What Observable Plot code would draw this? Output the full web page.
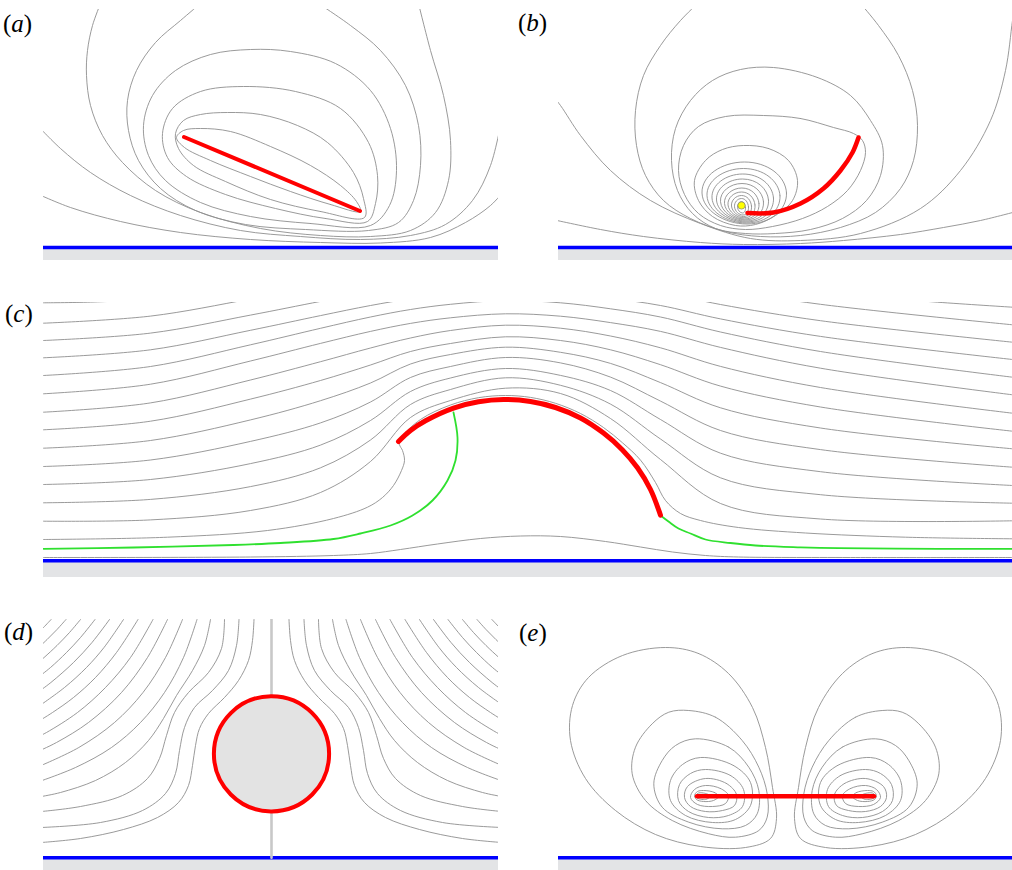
<!DOCTYPE html>
<html>
<head>
<meta charset="utf-8">
<script src="https://cdn.jsdelivr.net/npm/d3@7"></script>
<script src="https://cdn.jsdelivr.net/npm/@observablehq/plot@0.6"></script>
<style>
html,body{margin:0;padding:0;background:#fff;}
#fig{position:relative;width:1012px;height:870px;overflow:hidden;background:#fff;}
#fig svg{position:absolute;overflow:hidden;max-width:none;}
.lab{position:absolute;font-family:"Liberation Serif","Times New Roman","DejaVu Serif",serif;font-size:25px;line-height:25px;color:#000;white-space:nowrap;}
</style>
</head>
<body>
<div id="fig"></div>
<script>
// ---------------- data (figure units: pixels of the original figure) ----------------
const panelLabels = ["a", "b", "c", "d", "e"];
const wallLevels = [247, 247, 560.3, 857.3, 857.3];
const groundTops = [249, 249, 562, 859, 859];
const groundBottoms = [260, 260, 577, 870, 870];

// (a) inclined plate
const aPlate = [[183.5, 136.5], [359.5, 210.5]];
const aClosedLoops = [
  [[360,211],[330,204],[290,191],[250,176],[210,160],[184,147],[176,137],[183,130],[200,128],[230,131],[270,146],[310,165],[340,185],[356,201]],
  [[364,217],[320,211],[270,199],[225,181],[193,165],[178,148],[175,133],[183,120],[200,114],[227,112],[260,114],[297,125],[327,142],[353,172],[363,198]],
  [[367,221],[325,218],[275,208],[225,194],[186,176],[167,157],[162,133],[172,108],[200,91],[243,86],[295,91],[340,108],[368,142],[377,175],[375,203]],
  [[370,225],[310,223],[250,216],[200,202],[165,180],[148,155],[143,125],[152,95],[175,70],[210,54],[250,49],[290,51],[335,63],[370,90],[390,128],[396,170],[389,205]]
];
const aOpenLines = [
  [[200,3],[180,20],[155,42],[136,70],[127,100],[128,130],[138,160],[160,188],[195,210],[245,224],[305,229],[368,230],[398,222],[413,200],[420,165],[418,125],[405,85],[380,50],[350,25],[318,3]],
  [[100,3],[92,25],[87,50],[86,75],[90,105],[102,135],[122,162],[155,190],[200,212],[260,228],[320,235],[370,236],[410,230],[435,212],[448,180],[450,140],[443,95],[430,50],[418,3]],
  [[36,124],[60,148],[90,172],[130,195],[180,215],[240,230],[300,236],[360,239],[410,235],[445,224],[472,200],[490,165],[502,115]],
  [[36,193],[70,207],[120,221],[180,232],[250,239],[320,242],[380,242.5],[430,237],[465,222],[490,205],[504,190]]
];

// (b) curved filament with a point source
const bSource = [[741, 205]];
const bFilament = [[747,212.5],[773,212],[800,203],[823,188],[840,170],[852,152],[858,137]];
const bRings = [
  [[741,201],[745,206.8],[742,212.5],[737,206.8]],
  [[741,198],[748,206.3],[742.5,214.5],[734,206.3]],
  [[741,195],[751,205.5],[743,216],[731,205.5]],
  [[741,191.5],[754.5,204.4],[743.5,217.3],[727.5,204.4]],
  [[741.3,187.5],[758.5,203],[744,218.5],[724,203]],
  [[741.5,183],[763,201.2],[744.5,219.5],[720,201.2]],
  [[742,178.5],[768,199.5],[745,220.5],[716,199.5]],
  [[742.3,173.5],[773,197.5],[745.5,221.5],[711.5,197.5]],
  [[743,168],[779.5,195.3],[746,222.5],[706.5,195.3]],
  [[744,161.5],[786,192.5],[746.5,223.5],[701.5,192.5]]
];
const bLoops = [
  [[743,145],[768,148],[788,160],[797,180],[792,200],[775,215],[755,224],[735,225],[712,216],[698,200],[694,180],[705,160],[722,149]],
  [[763,115],[800,118],[833,127],[853,133],[862,140],[865,152],[860,170],[847,190],[827,206],[802,218],[772,226],[745,229],[720,225],[698,213],[684,194],[678,170],[683,145],[698,126],[725,116]],
  [[773,67],[817,77],[850,95],[870,120],[882,145],[880,175],[866,200],[842,218],[810,229],[775,233],[745,233],[715,228],[692,213],[677,190],[671,160],[675,128],[690,100],[712,80],[740,69]]
];
const bOpenLines = [
  [[697,3],[680,20],[660,45],[643,75],[635,110],[636,145],[645,175],[663,200],[690,218],[725,231],[760,236],[800,235],[840,227],[875,212],[900,188],[913,160],[917,125],[912,90],[898,55],[878,25],[860,3]],
  [[552,95],[560,105],[580,135],[610,170],[650,200],[700,223],[750,238],[800,240],[860,233],[920,208],[960,170],[990,120],[1005,70],[1012,20],[1015,0]],
  [[552,219],[600,229],[643,236],[700,242],[743,244],[800,243],[843,240],[900,234],[943,227],[980,220],[1016,211]]
];

// (c) swimming sheet in shear flow
const cSheet = [[398,441],[410,430],[425,420.3],[453,407.6],[478,401.3],[503,399],[530,401],[555,407],[580,417.5],[603,432.6],[622,449.4],[637,467.3],[650,489],[660,514.7]];
const cStations = [43,150,250,320,370,410,450,505,560,610,660,720,820,1012];
const cLineLevels = [
  [520.7,519.4,510,492,461,417,400,387.7,393,418,459,503,518.5,520.3],
  [502.3,498.9,486.1,467.3,439.5,404,389,377.3,384.8,403.6,438.5,477.3,494.2,502.7],
  [484,479,463.1,444.6,420,391,377.5,368,374.9,390,419,452.7,471.2,485],
  [466,459.5,440.9,422.4,401.5,377,366,357,362.4,376.6,400.6,430,449.1,466.7],
  [447.7,440,419.4,400.2,382.5,363.5,354,346.7,351.8,362.9,382.1,407.3,427.5,448.3],
  [429.3,420.7,398.6,380,364.5,351,343,336.3,340,349.3,364.2,385.6,406.5,430.7],
  [411.7,402.4,379.5,361.2,347.5,337.5,330,324.7,327.7,335.5,347.3,365.9,387,412.7],
  [393.3,383.7,360.5,342.9,330.9,322.9,317.3,313.3,315.7,322.1,330.9,346.9,367.7,394.3],
  [375,366,344.3,327.8,316.5,309,303.8,300,302.3,308.3,316.5,331.5,351,376.7],
  [357.3,349.3,329.8,315.1,305,298.3,293.6,290.3,292.3,297.7,305,318.4,335.9,359],
  [340,332.6,314.6,300.9,291.6,285.4,281.1,278,279.9,284.8,291.6,304,320.2,341.7],
  [322.7,315.6,298.5,285.5,276.7,270.8,266.7,263.7,265.5,270.2,276.7,288.5,303.8,324.3]
];
const cTopLine = [[43,302.3],[90,301.6],[150,298.5],[250,288],[320,276],[505,252],[700,272],[800,288],[880,297],[937,301.7],[1012,306.7]];
const cSheetLine = [[43,539],[167,536.7],[267,530],[333,518],[367,506.7],[382,497],[393,485],[401,470],[404,460],[402,450],[399,444],[401,437],[420,419],[450,404.5],[478,397.2],[505,395],[530,396.9],[555,402.8],[580,413],[603,427],[622,442.3],[640,459.6],[655,482],[665,500],[680,513],[700,520],[738,527],[805,532.5],[905,536.7],[1012,538.3]];
const cWallLine = [[43,557],[250,556.5],[333,555],[370,553],[400,549],[437,543.5],[480,538],[520,535.5],[560,536],[605,541],[640,546.5],[672,551.5],[705,555],[738,556.5],[850,557],[1012,557]];
const cSeparatrixLeft = [[453,412],[457,437],[455,460],[447,480],[432,500],[412,515],[390,525],[360,533],[333,538.5],[280,542.5],[233,544.5],[133,547],[43,548.3]];
const cSeparatrixRight = [[660,515],[668,521],[678,528],[690,533],[705,539],[730,542.5],[755,545],[800,546.8],[838,547.7],[938,548.3],[1012,548.3]];

// (d) sphere approaching a wall: (distance from axis, height) — axisymmetric
const dSphere = [[0, 753.3]];
const dAxis = [[0, 619], [0, 857.3]];
const dStreamlines = [
  [[17.5,619],[19,640],[23,660],[33,680],[47,697],[63,713],[72,728],[76,745],[79,765],[83,785],[93,802],[114,817],[148,829],[191,838],[230,842]],
  [[32.5,619],[35,645],[43,670],[59,690],[77,707],[87,727],[92,750],[96,773],[106,793],[129,810],[171,822],[230,827]],
  [[47,619],[50,648],[63,672],[83,692],[97,712],[105,735],[112,758],[124,778],[149,795],[191,806],[230,811]],
  [[61,619],[67,645],[79,670],[95,695],[108,718],[123,740],[146,762],[176,780],[211,792],[230,796]],
  [[74.5,619],[88,657],[107,692],[131,722],[160,747],[196,767],[235,782]],
  [[89,619],[106,657],[128.5,692],[157,722],[192.7,747],[230.4,765]],
  [[104,619],[124,657],[150,692],[183,722],[215,742],[236,752]],
  [[118.5,619],[141,657],[166,687],[194,712],[225,732],[235,737]],
  [[133.5,619],[155,652],[176,677],[198,697],[219,712],[235,722]],
  [[148,619],[167.5,647],[185,667],[207,687],[234.5,707]],
  [[162,619],[179.5,642],[198,662],[220.6,682],[234,692]],
  [[176.5,619],[191,637],[205,652],[221,667],[233.6,677]],
  [[191,619],[202,632],[214.5,645],[227.4,657],[234.4,663]],
  [[205.5,619],[214.5,629],[224.4,639],[235,649]],
  [[220.4,619],[228,627],[236,635]]
];

// (e) rod parallel to the wall: (distance from midplane, height) — symmetric
const eRod = [[0, 795.7], [88.5, 795.7]];
const eLoops = [
  [[82,792.5],[75,795.5],[80,799],[89,797],[88,793]],
  [[82,790],[71,792],[67,796],[72,800],[82,801],[89,799],[91,795],[88,791]],
  [[80,785],[65,788],[57,795],[60,803],[73,806],[88,804],[95,797],[91,789]],
  [[80,778],[59,783],[49,794],[51,805],[63,810],[80,811],[95,806],[101,797],[98,786]],
  [[80,769],[55,775],[42,789],[43,806],[57,815],[77,817],[97,811],[107,800],[106,784],[95,773]],
  [[85,757],[52,765],[35,782],[35,805],[50,819],[73,822],[100,815],[115,800],[115,780],[103,764]],
  [[90,738.3],[56.7,746.7],[36.7,766.7],[26.7,790],[28.3,813.3],[40,825],[63.3,828.3],[96.7,821.7],[123.3,806.7],[131.7,783.3],[123.3,760],[110,745]],
  [[96.7,710],[70,716.7],[43.3,740],[26.7,766.7],[18.3,793.3],[18.3,816.7],[26.7,830],[50,836.7],[76.7,833.3],[113.3,820],[140,800],[153.3,773.3],[150,746.7],[133.3,723.3],[116.7,711.7]],
  [[120,647],[87,653],[57,673],[33,707],[20,747],[13,787],[9,818],[15,838],[40,847],[85,846],[130,834],[170,810],[200,778],[215,740],[213,705],[197,677],[163,655]]
];

// ---------------- drawing ----------------
const fig = document.getElementById("fig");
const GREY = "#8f8f8f";
const RED = "#ff0000";
const BLUE = "#0000ff";
const GROUND = "#e3e4e6";

function drawPanel({left, top, width, height, xDomain, yDomain, flipX = false, marks}) {
  const svg = Plot.plot({
    width, height, margin: 0,
    x: {domain: xDomain, range: flipX ? [width, 0] : [0, width], axis: null},
    y: {domain: yDomain, range: [0, height], axis: null},
    style: {background: "transparent"},
    marks
  });
  svg.style.left = left + "px";
  svg.style.top = top + "px";
  svg.style.width = width + "px";
  svg.style.height = height + "px";
  fig.appendChild(svg);
}

function wallMarks(i, xDomain) {
  const band = [{x1: xDomain[0], x2: xDomain[1], y1: groundTops[i], y2: groundBottoms[i]}];
  return [
    Plot.rect(band, {x1: "x1", x2: "x2", y1: "y1", y2: "y2", fill: GROUND}),
    Plot.ruleY([wallLevels[i]], {stroke: BLUE, strokeWidth: 3.5})
  ];
}
const stream = (curves, curve, extra = {}) =>
  curves.map(c => Plot.line(c, {curve, stroke: GREY, strokeWidth: 0.9, clip: true, ...extra}));

// (a)
drawPanel({
  left: 43, top: 9, width: 455, height: 251, xDomain: [43, 498], yDomain: [9, 260],
  marks: [
    ...wallMarks(0, [43, 498]),
    ...stream(aClosedLoops, "catmull-rom-closed"),
    ...stream(aOpenLines, "catmull-rom"),
    Plot.line(aPlate, {stroke: RED, strokeWidth: 4, strokeLinecap: "round"})
  ]
});

// (b)
drawPanel({
  left: 558, top: 9, width: 454, height: 251, xDomain: [558, 1012], yDomain: [9, 260],
  marks: [
    ...wallMarks(1, [558, 1012]),
    ...stream(bRings, "cardinal-closed", {tension: -0.65}),
    ...stream(bLoops, "catmull-rom-closed"),
    ...stream(bOpenLines, "catmull-rom"),
    Plot.line(bFilament, {curve: "catmull-rom", stroke: RED, strokeWidth: 4.5, strokeLinecap: "round"}),
    Plot.dot(bSource, {r: 3.6, fill: "#ffff00", stroke: "#8a8a60", strokeWidth: 0.7})
  ]
});

// (c)
const cLines = cLineLevels.map(levels => cStations.map((x, j) => [x, levels[j]]));
drawPanel({
  left: 43, top: 302, width: 969, height: 275, xDomain: [43, 1012], yDomain: [302, 577],
  marks: [
    ...wallMarks(2, [43, 1012]),
    ...stream([...cLines, cTopLine, cSheetLine, cWallLine], "catmull-rom"),
    Plot.line(cSeparatrixLeft, {curve: "catmull-rom", stroke: "#2fe02f", strokeWidth: 1.8, clip: true}),
    Plot.line(cSeparatrixRight, {curve: "catmull-rom", stroke: "#2fe02f", strokeWidth: 1.8, clip: true}),
    Plot.line(cSheet, {curve: "catmull-rom", stroke: RED, strokeWidth: 5, strokeLinecap: "round"})
  ]
});

// (d) two mirrored halves of an axisymmetric field
[[43, 228, true], [271, 227, false]].forEach(([left, width, flipX]) => {
  drawPanel({
    left, top: 619, width, height: 251, xDomain: [0, width], yDomain: [619, 870], flipX,
    marks: [
      ...wallMarks(3, [0, width]),
      ...stream(dStreamlines, "catmull-rom"),
      Plot.line(dAxis, {stroke: "#c8c8c8", strokeWidth: 2.6, clip: true}),
      Plot.dot(dSphere, {r: 57.6, fill: "#e3e3e3", stroke: RED, strokeWidth: 4, clip: true})
    ]
  });
});

// (e) two mirrored halves
[[558, 227, true], [785, 227, false]].forEach(([left, width, flipX]) => {
  drawPanel({
    left, top: 619, width, height: 251, xDomain: [0, width], yDomain: [619, 870], flipX,
    marks: [
      ...wallMarks(4, [0, width]),
      ...stream(eLoops, "catmull-rom-closed"),
      Plot.line(eRod, {stroke: RED, strokeWidth: 4.5, strokeLinecap: "round", clip: true})
    ]
  });
});

// panel letters
const labelSpots = [[3, 11], [518, 10], [5, 301], [4, 619], [519, 620]];
panelLabels.forEach((t, i) => {
  const s = document.createElement("div");
  s.className = "lab";
  s.style.left = labelSpots[i][0] + "px";
  s.style.top = labelSpots[i][1] + "px";
  s.innerHTML = "(<i>" + t + "</i>)";
  fig.appendChild(s);
});
</script>
</body>
</html>
